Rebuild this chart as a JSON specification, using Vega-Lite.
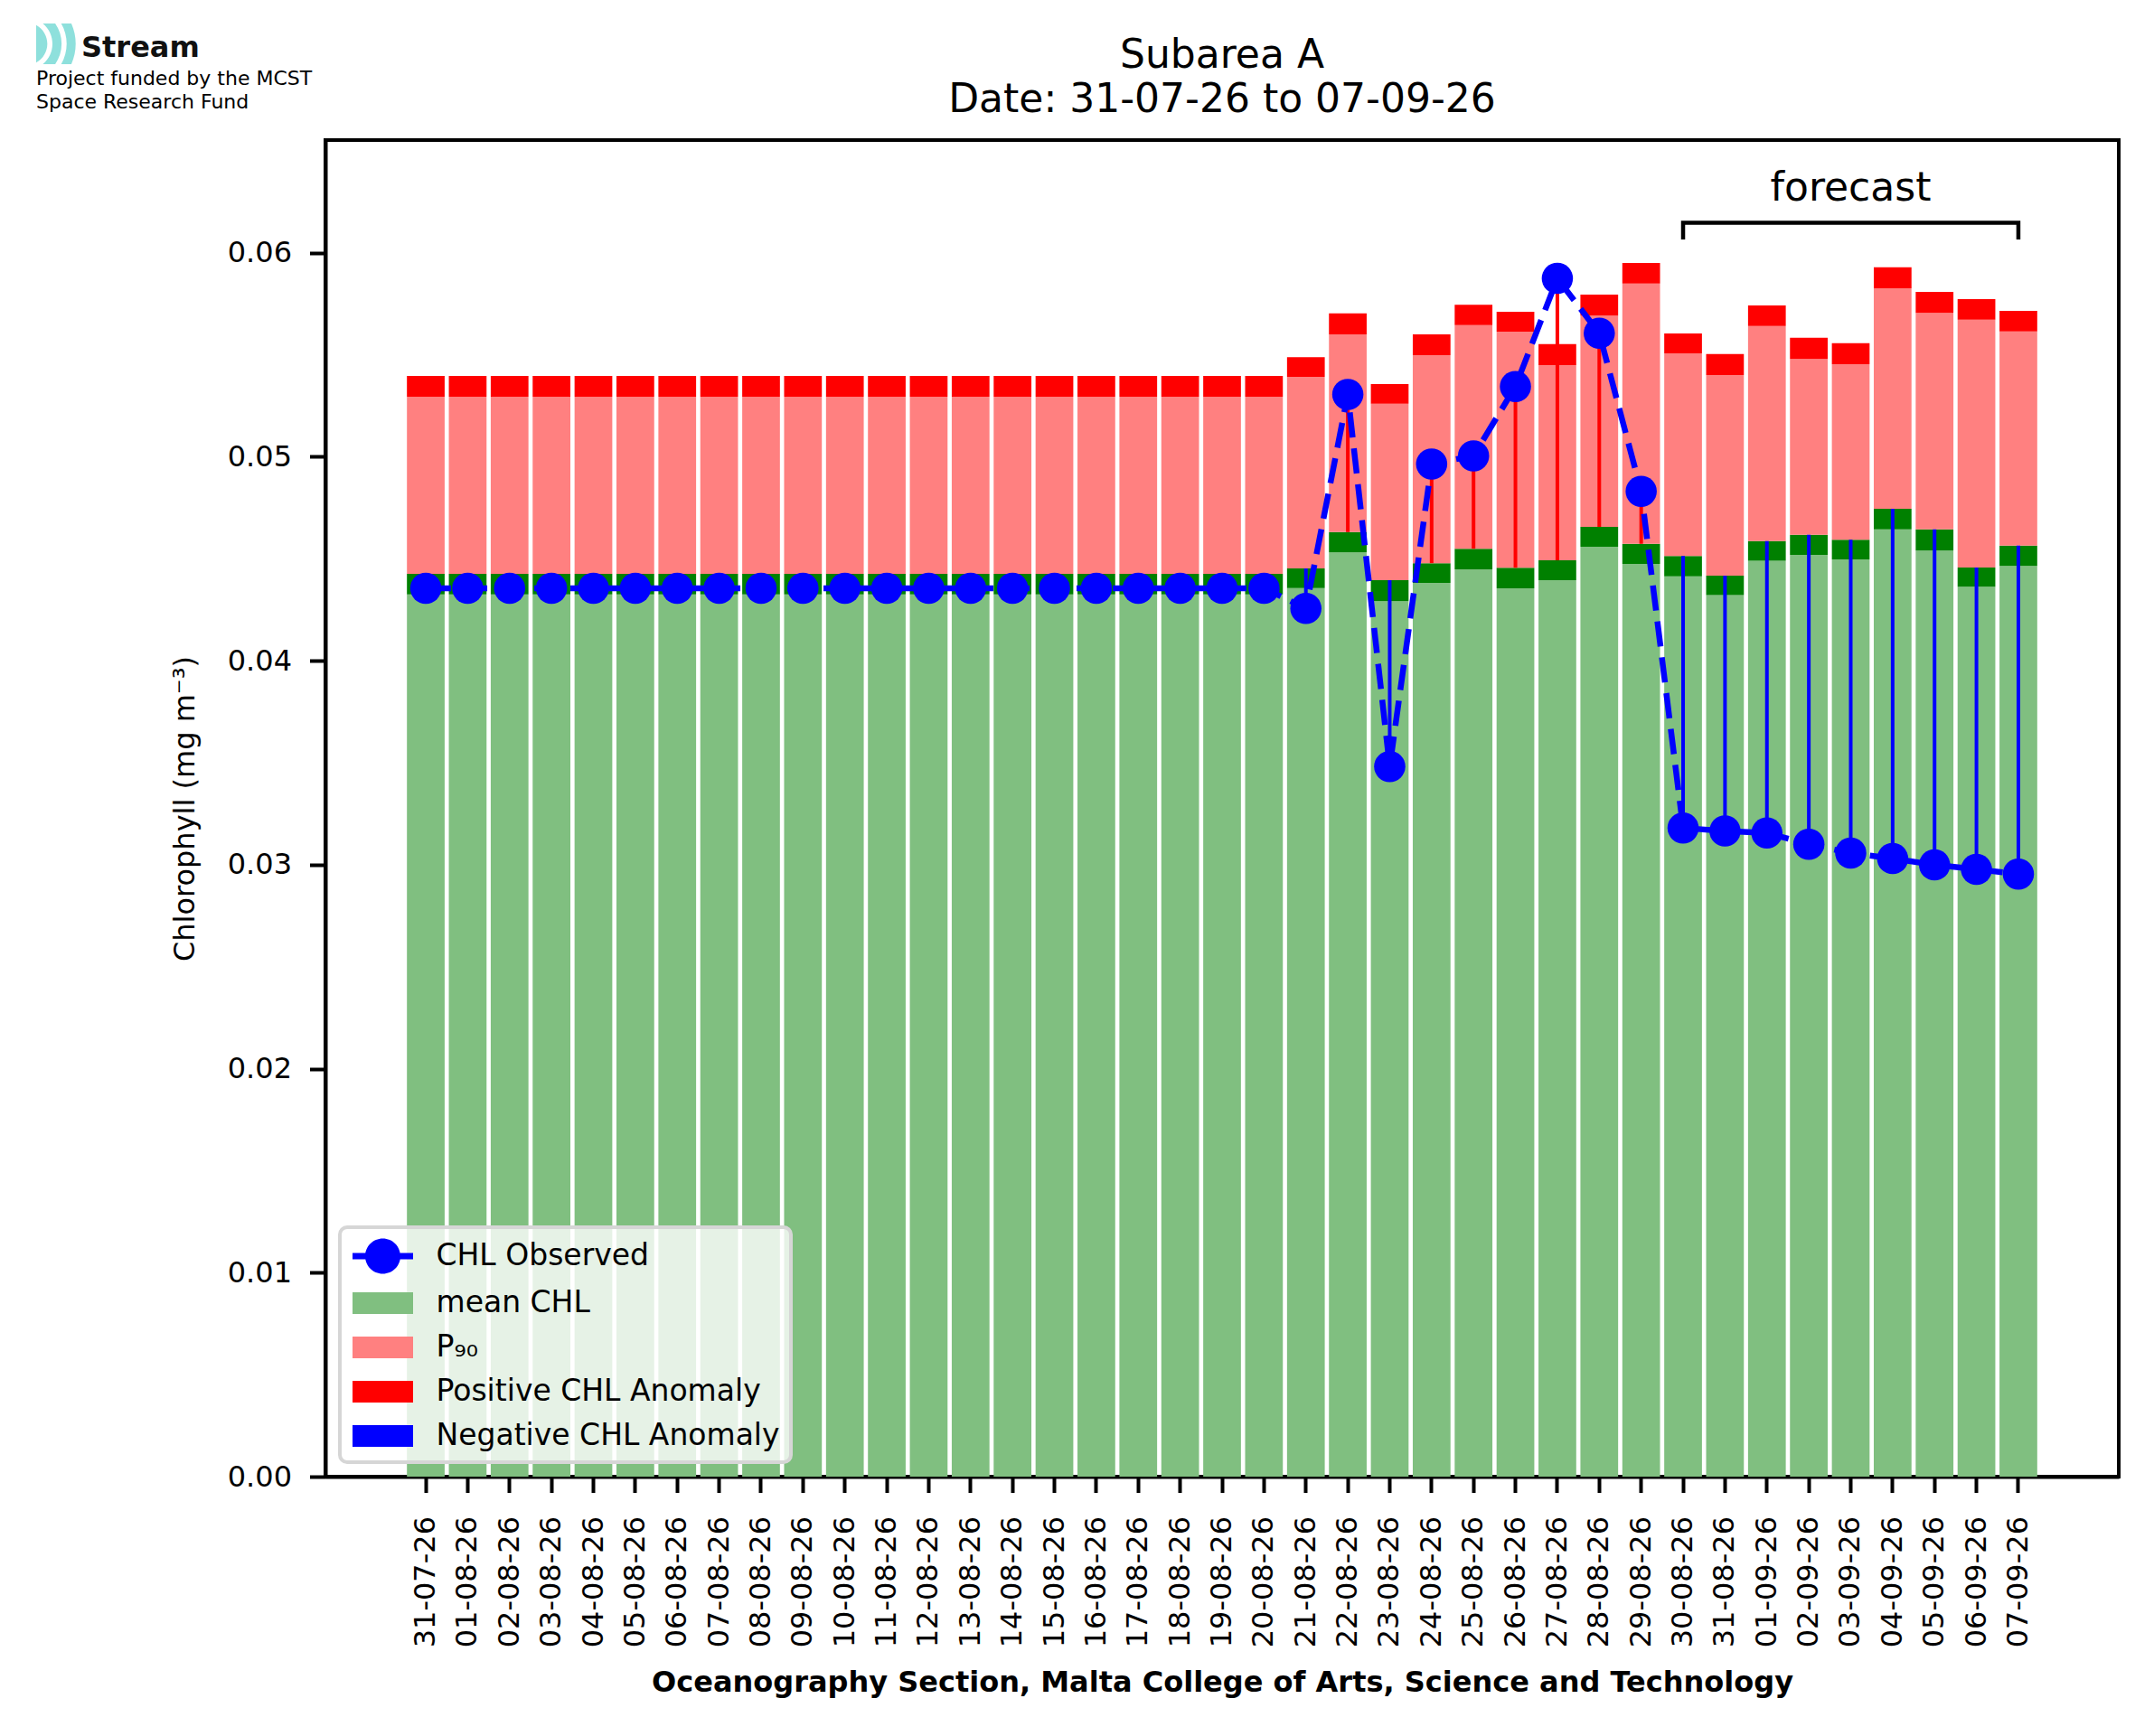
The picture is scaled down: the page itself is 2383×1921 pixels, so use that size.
{
  "$schema": "https://vega.github.io/schema/vega-lite/v6.json",
  "autosize": {"type": "none"},
  "padding": {"left": 360, "top": 155, "right": 39, "bottom": 287},
  "width": 1984,
  "height": 1479,
  "background": "white",
  "config": {
    "font": "DejaVu Sans",
    "view": {"stroke": "black", "strokeWidth": 4},
    "axis": {"grid": false, "domainColor": "black", "domainWidth": 4, "tickColor": "black", "tickWidth": 4, "tickSize": 17.5, "labelColor": "black", "titleColor": "black", "labelFont": "DejaVu Sans", "titleFont": "DejaVu Sans", "zindex": 1},
    "legend": {"strokeWidth": 4}
  },
  "title": {"text": ["Subarea A", "Date: 31-07-26 to 07-09-26"], "fontSize": 44, "fontWeight": "normal", "lineHeight": 49, "color": "black", "anchor": "middle", "frame": "group", "offset": 22, "dy": 129},
  "datasets": {
    "main": [
      {"d": "31-07-26", "g1": 0.04325, "g2": 0.04426, "r1": 0.05294, "r2": 0.05396, "obs": 0.04355},
      {"d": "01-08-26", "g1": 0.04325, "g2": 0.04426, "r1": 0.05294, "r2": 0.05396, "obs": 0.04355},
      {"d": "02-08-26", "g1": 0.04325, "g2": 0.04426, "r1": 0.05294, "r2": 0.05396, "obs": 0.04355},
      {"d": "03-08-26", "g1": 0.04325, "g2": 0.04426, "r1": 0.05294, "r2": 0.05396, "obs": 0.04355},
      {"d": "04-08-26", "g1": 0.04325, "g2": 0.04426, "r1": 0.05294, "r2": 0.05396, "obs": 0.04355},
      {"d": "05-08-26", "g1": 0.04325, "g2": 0.04426, "r1": 0.05294, "r2": 0.05396, "obs": 0.04355},
      {"d": "06-08-26", "g1": 0.04325, "g2": 0.04426, "r1": 0.05294, "r2": 0.05396, "obs": 0.04355},
      {"d": "07-08-26", "g1": 0.04325, "g2": 0.04426, "r1": 0.05294, "r2": 0.05396, "obs": 0.04355},
      {"d": "08-08-26", "g1": 0.04325, "g2": 0.04426, "r1": 0.05294, "r2": 0.05396, "obs": 0.04355},
      {"d": "09-08-26", "g1": 0.04325, "g2": 0.04426, "r1": 0.05294, "r2": 0.05396, "obs": 0.04355},
      {"d": "10-08-26", "g1": 0.04325, "g2": 0.04426, "r1": 0.05294, "r2": 0.05396, "obs": 0.04355},
      {"d": "11-08-26", "g1": 0.04325, "g2": 0.04426, "r1": 0.05294, "r2": 0.05396, "obs": 0.04355},
      {"d": "12-08-26", "g1": 0.04325, "g2": 0.04426, "r1": 0.05294, "r2": 0.05396, "obs": 0.04355},
      {"d": "13-08-26", "g1": 0.04325, "g2": 0.04426, "r1": 0.05294, "r2": 0.05396, "obs": 0.04355},
      {"d": "14-08-26", "g1": 0.04325, "g2": 0.04426, "r1": 0.05294, "r2": 0.05396, "obs": 0.04355},
      {"d": "15-08-26", "g1": 0.04325, "g2": 0.04426, "r1": 0.05294, "r2": 0.05396, "obs": 0.04355},
      {"d": "16-08-26", "g1": 0.04325, "g2": 0.04426, "r1": 0.05294, "r2": 0.05396, "obs": 0.04355},
      {"d": "17-08-26", "g1": 0.04325, "g2": 0.04426, "r1": 0.05294, "r2": 0.05396, "obs": 0.04355},
      {"d": "18-08-26", "g1": 0.04325, "g2": 0.04426, "r1": 0.05294, "r2": 0.05396, "obs": 0.04355},
      {"d": "19-08-26", "g1": 0.04325, "g2": 0.04426, "r1": 0.05294, "r2": 0.05396, "obs": 0.04355},
      {"d": "20-08-26", "g1": 0.04325, "g2": 0.04426, "r1": 0.05294, "r2": 0.05396, "obs": 0.04355},
      {"d": "21-08-26", "g1": 0.04356, "g2": 0.04452, "r1": 0.05391, "r2": 0.05488, "obs": 0.04256},
      {"d": "22-08-26", "g1": 0.04531, "g2": 0.04630, "r1": 0.05599, "r2": 0.05702, "obs": 0.05305},
      {"d": "23-08-26", "g1": 0.04292, "g2": 0.04395, "r1": 0.05259, "r2": 0.05356, "obs": 0.03481},
      {"d": "24-08-26", "g1": 0.04381, "g2": 0.04478, "r1": 0.05498, "r2": 0.05599, "obs": 0.04964},
      {"d": "25-08-26", "g1": 0.04448, "g2": 0.04549, "r1": 0.05645, "r2": 0.05745, "obs": 0.05004},
      {"d": "26-08-26", "g1": 0.04355, "g2": 0.04456, "r1": 0.05613, "r2": 0.05710, "obs": 0.05344},
      {"d": "27-08-26", "g1": 0.04395, "g2": 0.04492, "r1": 0.05449, "r2": 0.05552, "obs": 0.05874},
      {"d": "28-08-26", "g1": 0.04559, "g2": 0.04656, "r1": 0.05692, "r2": 0.05795, "obs": 0.05605},
      {"d": "29-08-26", "g1": 0.04474, "g2": 0.04573, "r1": 0.05849, "r2": 0.05949, "obs": 0.04830},
      {"d": "30-08-26", "g1": 0.04413, "g2": 0.04513, "r1": 0.05506, "r2": 0.05604, "obs": 0.03180},
      {"d": "31-08-26", "g1": 0.04321, "g2": 0.04417, "r1": 0.05400, "r2": 0.05503, "obs": 0.03165},
      {"d": "01-09-26", "g1": 0.04490, "g2": 0.04586, "r1": 0.05640, "r2": 0.05741, "obs": 0.03155},
      {"d": "02-09-26", "g1": 0.04519, "g2": 0.04617, "r1": 0.05479, "r2": 0.05583, "obs": 0.03100},
      {"d": "03-09-26", "g1": 0.04497, "g2": 0.04593, "r1": 0.05453, "r2": 0.05556, "obs": 0.03057},
      {"d": "04-09-26", "g1": 0.04644, "g2": 0.04745, "r1": 0.05825, "r2": 0.05928, "obs": 0.03030},
      {"d": "05-09-26", "g1": 0.04540, "g2": 0.04644, "r1": 0.05705, "r2": 0.05808, "obs": 0.02999},
      {"d": "06-09-26", "g1": 0.04363, "g2": 0.04457, "r1": 0.05671, "r2": 0.05772, "obs": 0.02977},
      {"d": "07-09-26", "g1": 0.04464, "g2": 0.04564, "r1": 0.05614, "r2": 0.05715, "obs": 0.02954}
    ],
    "bracket": [
      {"x": "30-08-26", "y": 0.06065},
      {"x": "30-08-26", "y": 0.06147},
      {"x": "07-09-26", "y": 0.06147},
      {"x": "07-09-26", "y": 0.06065}
    ],
    "note": [{"x": "03-09-26", "y": 0.06257, "t": "forecast"}],
    "leg": [
      {"k": "CHL Observed"},
      {"k": "mean CHL"},
      {"k": "P₉₀"},
      {"k": "Positive CHL Anomaly"},
      {"k": "Negative CHL Anomaly"}
    ],
    "logo": [{"logo": "Stream"}]
  },
  "layer": [
    {
      "data": {"name": "main"},
      "mark": {"type": "bar", "color": "#80bf80"},
      "encoding": {
        "x": {
          "field": "d", "type": "nominal",
          "scale": {
            "domain": ["pad-left","31-07-26","01-08-26","02-08-26","03-08-26","04-08-26","05-08-26","06-08-26","07-08-26","08-08-26","09-08-26","10-08-26","11-08-26","12-08-26","13-08-26","14-08-26","15-08-26","16-08-26","17-08-26","18-08-26","19-08-26","20-08-26","21-08-26","22-08-26","23-08-26","24-08-26","25-08-26","26-08-26","27-08-26","28-08-26","29-08-26","30-08-26","31-08-26","01-09-26","02-09-26","03-09-26","04-09-26","05-09-26","06-09-26","07-09-26","pad-right"],
            "paddingInner": 0.1, "paddingOuter": 0.945, "align": 0.5
          },
          "axis": {"values": ["31-07-26","01-08-26","02-08-26","03-08-26","04-08-26","05-08-26","06-08-26","07-08-26","08-08-26","09-08-26","10-08-26","11-08-26","12-08-26","13-08-26","14-08-26","15-08-26","16-08-26","17-08-26","18-08-26","19-08-26","20-08-26","21-08-26","22-08-26","23-08-26","24-08-26","25-08-26","26-08-26","27-08-26","28-08-26","29-08-26","30-08-26","31-08-26","01-09-26","02-09-26","03-09-26","04-09-26","05-09-26","06-09-26","07-09-26"], "title": "Oceanography Section, Malta College of Arts, Science and Technology", "titleFontSize": 32, "titleFontWeight": "bold", "titlePadding": 24, "labelFontSize": 32, "labelAngle": 270, "labelPadding": 26, "labelOverlap": false}
        },
        "y": {
          "field": "g1", "type": "quantitative",
          "scale": {"domain": [0, 0.06552], "nice": false},
          "axis": {"title": "Chlorophyll (mg m⁻³)", "titleFontSize": 32, "titleFontWeight": "normal", "titlePadding": 30, "labelFontSize": 32, "labelPadding": 20, "values": [0, 0.01, 0.02, 0.03, 0.04, 0.05, 0.06], "format": ".2f"}
        }
      }
    },
    {
      "data": {"name": "main"},
      "mark": {"type": "bar", "color": "#008000"},
      "encoding": {
        "x": {"field": "d", "type": "nominal"},
        "y": {"field": "g1", "type": "quantitative"},
        "y2": {"field": "g2"}
      }
    },
    {
      "data": {"name": "main"},
      "mark": {"type": "bar", "color": "#ff8080"},
      "encoding": {
        "x": {"field": "d", "type": "nominal"},
        "y": {"field": "g2", "type": "quantitative"},
        "y2": {"field": "r1"}
      }
    },
    {
      "data": {"name": "main"},
      "mark": {"type": "bar", "color": "#ff0000"},
      "encoding": {
        "x": {"field": "d", "type": "nominal"},
        "y": {"field": "r1", "type": "quantitative"},
        "y2": {"field": "r2"}
      }
    },
    {
      "data": {"name": "main"},
      "mark": {"type": "rule", "strokeWidth": 4},
      "encoding": {
        "x": {"field": "d", "type": "nominal", "bandPosition": 0.5},
        "y": {"field": "obs", "type": "quantitative"},
        "y2": {"field": "g2"},
        "color": {"condition": {"test": "datum.obs > datum.g2", "value": "#ff0000"}, "value": "#0000ff"}
      }
    },
    {
      "data": {"name": "main"},
      "mark": {"type": "line", "color": "#0000ff", "strokeWidth": 6.5, "strokeDash": [28, 12]},
      "encoding": {
        "x": {"field": "d", "type": "nominal", "bandPosition": 0.5},
        "y": {"field": "obs", "type": "quantitative"},
        "order": {"value": null}
      }
    },
    {
      "data": {"name": "main"},
      "mark": {"type": "point", "filled": true, "color": "#0000ff", "size": 1195, "opacity": 1},
      "encoding": {
        "x": {"field": "d", "type": "nominal", "bandPosition": 0.5},
        "y": {"field": "obs", "type": "quantitative"}
      }
    },
    {
      "data": {"name": "bracket"},
      "mark": {"type": "line", "color": "black", "strokeWidth": 4.5, "strokeJoin": "miter"},
      "encoding": {
        "x": {"field": "x", "type": "nominal", "bandPosition": 0.5},
        "y": {"field": "y", "type": "quantitative"},
        "order": {"value": null}
      }
    },
    {
      "data": {"name": "note"},
      "mark": {"type": "text", "fontSize": 44, "baseline": "alphabetic", "align": "center", "color": "black"},
      "encoding": {
        "x": {"field": "x", "type": "nominal", "bandPosition": 0.5},
        "y": {"field": "y", "type": "quantitative"},
        "text": {"field": "t"}
      }
    },
    {
      "data": {"name": "leg"},
      "mark": {"type": "point", "filled": true, "opacity": 0},
      "encoding": {
        "x": {"datum": "31-07-26", "type": "nominal"},
        "y": {"datum": 0, "type": "quantitative"},
        "color": {
          "field": "k", "type": "nominal",
          "scale": {"domain": ["CHL Observed", "mean CHL", "P₉₀", "Positive CHL Anomaly", "Negative CHL Anomaly"], "range": ["#0000ff", "#80bf80", "#ff8080", "#ff0000", "#0000ff"]},
          "legend": {"title": null, "orient": "bottom-left", "offset": 16, "padding": 12, "fillColor": "rgba(255,255,255,0.8)", "strokeColor": "#d6d6d6", "cornerRadius": 8, "labelFontSize": 33, "labelColor": "black", "labelFont": "DejaVu Sans", "symbolSize": 1600, "symbolStrokeWidth": 0, "symbolOpacity": 1, "symbolOffset": 15.5, "labelOffset": 39, "rowPadding": 12, "labelLimit": 0}
        },
        "shape": {
          "field": "k", "type": "nominal",
          "scale": {"domain": ["CHL Observed", "mean CHL", "P₉₀", "Positive CHL Anomaly", "Negative CHL Anomaly"], "range": ["M-1.675,-0.175H-0.96V0.175H-1.675Z M0.96,-0.175H1.675V0.175H0.96Z M0.975,0A0.975,0.975 0 1,1 -0.975,0A0.975,0.975 0 1,1 0.975,0Z", "M-1.675,-0.6H1.675V0.6H-1.675Z", "M-1.675,-0.6H1.675V0.6H-1.675Z", "M-1.675,-0.6H1.675V0.6H-1.675Z", "M-1.675,-0.6H1.675V0.6H-1.675Z"]},
          "legend": {"title": null, "orient": "bottom-left", "offset": 16, "padding": 12, "fillColor": "rgba(255,255,255,0.8)", "strokeColor": "#d6d6d6", "cornerRadius": 8, "labelFontSize": 33, "labelColor": "black", "labelFont": "DejaVu Sans", "symbolSize": 1600, "symbolStrokeWidth": 0, "symbolOpacity": 1, "symbolOffset": 15.5, "labelOffset": 39, "rowPadding": 12, "labelLimit": 0}
        }
      }
    },
    {
      "data": {"name": "logo"},
      "mark": {"type": "point", "filled": true, "opacity": 0},
      "encoding": {
        "x": {"datum": "31-07-26", "type": "nominal"},
        "y": {"datum": 0, "type": "quantitative"},
        "fill": {
          "field": "logo", "type": "nominal",
          "scale": {"range": ["#8ee0dc"]},
          "legend": {"title": ["Project funded by the MCST", "Space Research Fund"], "titleOrient": "bottom", "titleFontSize": 22, "titleFontWeight": "normal", "titleLineHeight": 26, "titlePadding": 6, "titleAnchor": "start", "titleColor": "black", "titleBaseline": "top", "titleLimit": 0, "orient": "none", "legendX": -320, "legendY": -129, "padding": 0, "strokeColor": null, "fillColor": null, "symbolType": "M-1,-0.935A0.874,0.874 0 0,1 -1,0.6016Z M-0.7245,-1L-0.2191,-1A1.459,1.459 0 0,1 -0.2191,0.6667L-0.7245,0.6667A1.0833,1.0833 0 0,0 -0.7245,-1Z M0.0267,-1L0.4421,-1A2.037,2.037 0 0,1 0.4421,0.6667L0.0267,0.6667A1.6667,1.6667 0 0,0 0.0267,-1Z", "symbolSize": 2916, "symbolStrokeWidth": 0, "symbolOpacity": 1, "labelFontSize": 32, "labelFontWeight": "bold", "labelColor": "#111111", "labelOffset": -4}
        }
      }
    }
  ]
}
